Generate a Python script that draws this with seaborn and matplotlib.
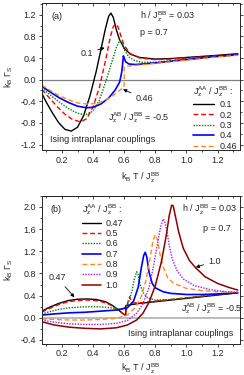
import matplotlib
matplotlib.use("Agg")
import matplotlib.pyplot as plt
import matplotlib.ticker as mticker
import seaborn as sns

# ---- panel (a) data: J_AA/J_BB = 0.1 ... 0.46 ----
a_t_01 = [0.07, 0.10, 0.14, 0.18, 0.22, 0.26, 0.30, 0.34, 0.38, 0.42, 0.45, 0.48, 0.50, 0.515, 0.53, 0.55, 0.57, 0.60, 0.64, 0.70, 0.80, 0.90, 1.00, 1.10, 1.20, 1.33]
a_g_01 = [-0.25, -0.42, -0.62, -0.80, -0.92, -0.95, -0.88, -0.66, -0.30, 0.15, 0.55, 0.95, 1.17, 1.23, 1.15, 0.92, 0.74, 0.58, 0.47, 0.41, 0.38, 0.39, 0.41, 0.43, 0.45, 0.48]
a_t_02 = [0.07, 0.12, 0.17, 0.22, 0.27, 0.32, 0.36, 0.40, 0.44, 0.48, 0.51, 0.53, 0.545, 0.56, 0.58, 0.60, 0.64, 0.70, 0.80, 0.90, 1.00, 1.10, 1.20, 1.33]
a_g_02 = [-0.18, -0.34, -0.50, -0.64, -0.74, -0.78, -0.72, -0.50, -0.15, 0.35, 0.78, 0.98, 1.03, 0.98, 0.80, 0.63, 0.48, 0.40, 0.37, 0.38, 0.40, 0.42, 0.44, 0.47]
a_t_03 = [0.07, 0.12, 0.18, 0.24, 0.30, 0.35, 0.40, 0.44, 0.48, 0.52, 0.55, 0.57, 0.585, 0.60, 0.63, 0.67, 0.72, 0.80, 0.90, 1.00, 1.10, 1.20, 1.33]
a_g_03 = [-0.15, -0.27, -0.41, -0.53, -0.62, -0.65, -0.58, -0.38, -0.05, 0.32, 0.60, 0.72, 0.70, 0.55, 0.42, 0.35, 0.32, 0.32, 0.35, 0.38, 0.41, 0.43, 0.46]
a_t_04 = [0.07, 0.12, 0.18, 0.24, 0.30, 0.36, 0.40, 0.45, 0.50, 0.54, 0.57, 0.585, 0.595, 0.60, 0.61, 0.63, 0.67, 0.72, 0.80, 0.90, 1.00, 1.10, 1.20, 1.33]
a_g_04 = [-0.12, -0.22, -0.33, -0.42, -0.49, -0.52, -0.51, -0.45, -0.34, -0.20, -0.05, 0.15, 0.44, 0.40, 0.33, 0.29, 0.28, 0.29, 0.31, 0.34, 0.37, 0.40, 0.43, 0.46]
a_t_046 = [0.07, 0.12, 0.18, 0.24, 0.30, 0.36, 0.42, 0.48, 0.53, 0.57, 0.595, 0.60, 0.60, 0.62, 0.70, 0.80, 0.90, 1.00, 1.10, 1.20, 1.33]
a_g_046 = [-0.10, -0.19, -0.29, -0.37, -0.43, -0.45, -0.44, -0.38, -0.29, -0.20, -0.14, -0.10, 0.24, 0.25, 0.27, 0.30, 0.33, 0.36, 0.39, 0.42, 0.45]

# ---- panel (b) data: J_AA/J_BB = 0.47 ... 1.0 ----
b_t_047 = [0.07, 0.12, 0.18, 0.24, 0.30, 0.36, 0.42, 0.48, 0.52, 0.56, 0.59, 0.61, 0.61, 0.65, 0.70, 0.80, 0.90, 1.00, 1.10, 1.20, 1.33]
b_g_047 = [0.12, 0.19, 0.26, 0.31, 0.335, 0.34, 0.33, 0.29, 0.23, 0.15, 0.08, 0.04, 0.22, 0.24, 0.26, 0.29, 0.32, 0.35, 0.38, 0.41, 0.45]
b_t_05 = [0.07, 0.12, 0.18, 0.24, 0.30, 0.36, 0.42, 0.48, 0.52, 0.56, 0.59, 0.605, 0.615, 0.625, 0.635, 0.65, 0.70, 0.80, 0.90, 1.00, 1.10, 1.20, 1.33]
b_g_05 = [0.10, 0.17, 0.24, 0.29, 0.31, 0.32, 0.31, 0.27, 0.22, 0.14, 0.08, 0.05, 0.15, 0.30, 0.38, 0.27, 0.27, 0.30, 0.33, 0.36, 0.39, 0.42, 0.45]
b_t_06 = [0.07, 0.12, 0.18, 0.24, 0.30, 0.36, 0.42, 0.48, 0.54, 0.58, 0.61, 0.63, 0.65, 0.665, 0.68, 0.69, 0.70, 0.72, 0.75, 0.80, 0.90, 1.00, 1.10, 1.20, 1.33]
b_g_06 = [0.07, 0.11, 0.15, 0.18, 0.19, 0.20, 0.20, 0.19, 0.17, 0.15, 0.20, 0.30, 0.48, 0.70, 0.83, 0.78, 0.62, 0.46, 0.36, 0.32, 0.33, 0.36, 0.39, 0.42, 0.45]
b_t_07 = [0.07, 0.15, 0.25, 0.35, 0.45, 0.55, 0.62, 0.66, 0.69, 0.71, 0.725, 0.735, 0.745, 0.76, 0.78, 0.80, 0.85, 0.90, 1.00, 1.10, 1.20, 1.33]
b_g_07 = [0.05, 0.07, 0.09, 0.10, 0.12, 0.14, 0.18, 0.30, 0.55, 0.90, 1.12, 1.18, 1.10, 0.82, 0.62, 0.54, 0.47, 0.44, 0.42, 0.42, 0.43, 0.45]
b_t_08 = [0.07, 0.15, 0.25, 0.35, 0.45, 0.55, 0.62, 0.67, 0.71, 0.74, 0.765, 0.785, 0.80, 0.815, 0.83, 0.85, 0.88, 0.92, 1.00, 1.10, 1.20, 1.33]
b_g_08 = [-0.02, -0.03, -0.04, -0.04, -0.03, -0.01, 0.05, 0.18, 0.38, 0.68, 1.05, 1.38, 1.50, 1.40, 1.15, 0.92, 0.72, 0.62, 0.53, 0.49, 0.47, 0.46]
b_t_09 = [0.07, 0.15, 0.25, 0.35, 0.45, 0.55, 0.62, 0.68, 0.72, 0.76, 0.79, 0.815, 0.835, 0.85, 0.86, 0.875, 0.89, 0.91, 0.94, 0.98, 1.05, 1.15, 1.25, 1.33]
b_g_09 = [-0.04, -0.08, -0.11, -0.12, -0.12, -0.10, -0.05, 0.08, 0.25, 0.55, 0.95, 1.35, 1.65, 1.78, 1.75, 1.55, 1.30, 1.05, 0.85, 0.70, 0.58, 0.51, 0.47, 0.46]
b_t_10 = [0.07, 0.15, 0.25, 0.35, 0.45, 0.55, 0.62, 0.68, 0.72, 0.76, 0.80, 0.84, 0.87, 0.89, 0.905, 0.915, 0.93, 0.95, 0.98, 1.02, 1.06, 1.12, 1.20, 1.27, 1.33]
b_g_10 = [-0.07, -0.13, -0.17, -0.19, -0.20, -0.18, -0.13, -0.04, 0.08, 0.28, 0.58, 1.02, 1.48, 1.85, 2.03, 2.02, 1.82, 1.55, 1.25, 1.03, 0.90, 0.74, 0.62, 0.55, 0.50]

labels_a = ["0.1", "0.2", "0.3", "0.4", "0.46"]
labels_b = ["0.47", "0.5", "0.6", "0.7", "0.8", "0.9", "1.0"]

sns.set_style("ticks")
plt.rcParams["font.family"] = ["Liberation Sans", "DejaVu Sans"]
plt.rcParams["font.size"] = 6.5
plt.rcParams["mathtext.fontset"] = "custom"
plt.rcParams["mathtext.rm"] = "Liberation Sans"

fig = plt.figure(figsize=(2.44, 3.75), dpi=100)
ax1 = fig.add_axes([0.171, 0.600, 0.813, 0.391])
ax2 = fig.add_axes([0.171, 0.083, 0.813, 0.395])

styles_a = [
    ("black", (None, None), 1.0),
    ("#ff0000", (3.5, 2), 1.0),
    ("#008000", (1, 1), 1.0),
    ("#0000ff", (None, None), 1.2),
    ("#ff8c1a", (3.5, 2), 1.0),
]
styles_b = [
    ("black", (None, None), 1.0),
    ("#ff0000", (3.5, 2), 1.0),
    ("#008000", (1, 1), 1.0),
    ("#0000ff", (None, None), 1.2),
    ("#ff8c1a", (3.5, 2), 1.0),
    ("#9b1cff", (1, 1), 1.0),
    ("#8b0000", (None, None), 1.1),
]

curves_a = [(a_t_01, a_g_01), (a_t_02, a_g_02), (a_t_03, a_g_03), (a_t_04, a_g_04), (a_t_046, a_g_046)]
curves_b = [(b_t_047, b_g_047), (b_t_05, b_g_05), (b_t_06, b_g_06), (b_t_07, b_g_07),
            (b_t_08, b_g_08), (b_t_09, b_g_09), (b_t_10, b_g_10)]

ax1.axhline(0, color="#808080", lw=0.9, zorder=1)
ax2.axhline(0, color="#b5b5b5", lw=1.3, zorder=1)

for ax, curves, styles, labels in [(ax1, curves_a, styles_a, labels_a), (ax2, curves_b, styles_b, labels_b)]:
    for (t, g), (c, d, lw), lab in zip(curves, styles, labels):
        sns.lineplot(x=t, y=g, ax=ax, color=c, lw=lw, sort=False, estimator=None, label=lab)
        if d[0] is not None:
            ax.lines[-1].set_dashes(d)

ylab = r"k$_\mathregular{B}$ $\Gamma_\mathregular{S}$"
xlab = r"k$_\mathregular{B}$ T / J$_\mathregular{z}^\mathregular{BB}$"
legtitle = r"J$_\mathregular{z}^\mathregular{AA}$ / J$_\mathregular{z}^\mathregular{BB}$ :"

for ax in (ax1, ax2):
    ax.set_xlim(0.07, 1.345)
    ax.xaxis.set_major_locator(mticker.MultipleLocator(0.2))
    ax.xaxis.set_minor_locator(mticker.MultipleLocator(0.1))
    ax.yaxis.set_major_locator(mticker.MultipleLocator(0.4))
    ax.yaxis.set_minor_locator(mticker.MultipleLocator(0.2))
    ax.xaxis.set_major_formatter(mticker.FormatStrFormatter("%.1f"))
    ax.yaxis.set_major_formatter(mticker.FormatStrFormatter("%.1f"))
    ax.tick_params(which="both", direction="out", labelsize=6.5, width=0.6, pad=1.5)
    ax.tick_params(which="major", length=2.5)
    ax.tick_params(which="minor", length=1.3)
    ax.tick_params(axis="y", which="both", right=True)
    for s in ax.spines.values():
        s.set_linewidth(0.7)
    top = ax.secondary_xaxis("top")
    top.xaxis.set_major_locator(mticker.MultipleLocator(0.2))
    top.xaxis.set_minor_locator(mticker.MultipleLocator(0.1))
    top.tick_params(which="both", direction="in", labeltop=False, width=0.6)
    top.tick_params(which="major", length=2.5)
    top.tick_params(which="minor", length=1.3)
    top.spines["top"].set_linewidth(0.7)
    ax.set_ylabel(ylab, fontsize=6.5)
    ax.yaxis.set_label_coords(-0.135, 0.5)
    ax.set_xlabel(xlab, fontsize=6.5)

ax1.set_ylim(-1.3, 1.41)
ax2.set_ylim(-0.47, 2.2)
ax1.xaxis.set_label_coords(0.5, -0.19)
ax2.xaxis.set_label_coords(0.5, -0.17)
ax1.xaxis.label.set_va("center")
ax2.xaxis.label.set_va("center")

hb = r"h / J$_\mathregular{z}^\mathregular{BB}$ = 0.03"
jab = r"J$_\mathregular{z}^\mathregular{AB}$ / J$_\mathregular{z}^\mathregular{BB}$ = -0.5"

# panel (a) texts
ax1.text(0.047, 0.91, "(a)", transform=ax1.transAxes, va="center")
ax1.text(0.496, 0.905, hb, transform=ax1.transAxes, va="center")
ax1.text(0.496, 0.80, "p = 0.7", transform=ax1.transAxes, va="center")
ax1.text(0.333, 0.224, jab, transform=ax1.transAxes, va="center")
ax1.text(0.042, 0.07, "Ising intraplanar couplings", transform=ax1.transAxes, va="center")
arw = dict(arrowstyle="-|>", color="black", lw=0.6, mutation_scale=5, shrinkA=1, shrinkB=0)
ax1.annotate("0.1", xy=(0.474, 0.59), xytext=(0.36, 0.49), ha="center", va="center", arrowprops=arw)
ax1.annotate("0.46", xy=(0.593, -0.18), xytext=(0.73, -0.35), ha="center", va="center", arrowprops=arw)

# panel (b) texts
ax2.text(0.042, 0.905, "(b)", transform=ax2.transAxes, va="center")
ax2.text(0.706, 0.905, hb, transform=ax2.transAxes, va="center")
ax2.text(0.812, 0.782, "p = 0.7", transform=ax2.transAxes, va="center")
ax2.text(0.70, 0.241, jab, transform=ax2.transAxes, va="center")
ax2.text(0.437, 0.068, "Ising intraplanar couplings", transform=ax2.transAxes, va="center")
ax2.annotate("0.47", xy=(0.28, 0.37), xytext=(0.17, 0.72), ha="center", va="center", arrowprops=arw)
ax2.annotate("1.0", xy=(1.06, 0.91), xytext=(1.18, 1.02), ha="center", va="center", arrowprops=arw)

ax1.legend(title=legtitle, loc="upper left", bbox_to_anchor=(0.765, 0.45), frameon=False,
           fontsize=6.5, title_fontsize=6.5, handlelength=2.3, handletextpad=0.55,
           labelspacing=0.15, borderpad=0, borderaxespad=0, alignment="left")
ax2.legend(title=legtitle, loc="upper left", bbox_to_anchor=(0.205, 0.955), frameon=False,
           fontsize=6.5, title_fontsize=6.5, handlelength=2.1, handletextpad=0.45,
           labelspacing=0.15, borderpad=0, borderaxespad=0, alignment="left")

fig.savefig("out.png", dpi=100)
